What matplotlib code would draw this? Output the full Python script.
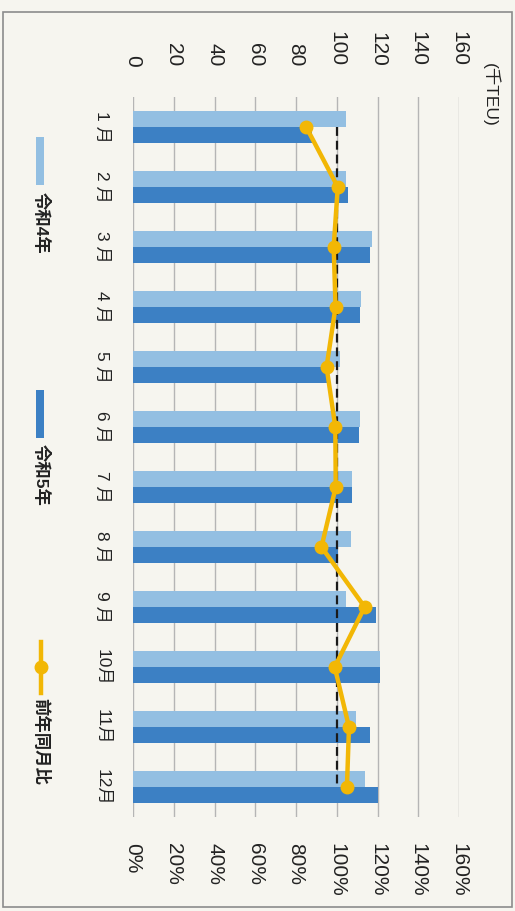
import matplotlib
matplotlib.use("Agg")
import matplotlib.pyplot as plt
from matplotlib.patches import Rectangle
from matplotlib.lines import Line2D
import numpy as np

plt.rcParams['font.family'] = ['Liberation Sans', 'Noto Sans CJK JP', 'DejaVu Sans']

# Monthly container volume (千TEU) and year-on-year ratio (%)
months = ['1 月', '2 月', '3 月', '4 月', '5 月', '6 月',
          '7 月', '8 月', '9 月', '10月', '11月', '12月']
teu_r4 = [104.5, 104.7, 117.5, 112.0, 101.7, 111.3,
          107.7, 107.0, 104.4, 121.4, 109.6, 113.7]
teu_r5 = [88.0, 105.4, 116.5, 111.5, 95.6, 111.0,
          107.7, 100.5, 119.4, 121.4, 116.2, 120.0]
yoy_pct = [85.0, 100.5, 98.5, 99.4, 95.0, 99.3,
           99.5, 92.5, 113.7, 99.0, 106.0, 105.0]
teu_ticks = [0, 20, 40, 60, 80, 100, 120, 140, 160]
pct_ticks = [0, 20, 40, 60, 80, 100, 120, 140, 160]

c_r4 = '#93bfe2'
c_r5 = '#3c80c4'
c_yoy = '#f2b705'
bg = '#f6f5ef'

W, H = 515, 911
fig = plt.figure(figsize=(W / 100, H / 100), dpi=100, facecolor=bg)


def fx(px):
    return px / W


def fy(py):
    return 1 - py / H


# outer frame
fig.patches.append(Rectangle((fx(3), fy(907)), fx(509), (895) / H,
                             transform=fig.transFigure, fill=False,
                             edgecolor='#8c8c8c', linewidth=1.2))

ax = fig.add_axes([fx(133), fy(817), fx(459 - 133), (817 - 97) / H])
ax.set_facecolor('none')

y = np.arange(len(months))
bh = 0.27
ax.barh(y - bh / 2, teu_r4, height=bh, color=c_r4, zorder=2)
ax.barh(y + bh / 2, teu_r5, height=bh, color=c_r5, zorder=2)

ax.set_xlim(0, 160)
ax.set_ylim(len(months) - 0.5, -0.5)
ax.set_yticks(y)
ax.set_yticklabels(months, rotation=-90, fontsize=12.5, va='center', color='#222222')
ax.tick_params(axis='y', length=0, pad=17)
ax.grid(axis='x', color='#b5b5b5', linewidth=1, zorder=0)
ax.set_axisbelow(True)
for s in ax.spines.values():
    s.set_visible(False)

# year-on-year ratio on the secondary scale
ax2 = ax.twiny()
ax2.set_xlim(0, 160)
ax2.xaxis.tick_bottom()
ax2.set_xticks(pct_ticks)
ax2.set_xticklabels([f'{t}%' for t in pct_ticks], rotation=-90, fontsize=15, color='#222222')
ax2.tick_params(axis='x', length=0, pad=19)
for s in ax2.spines.values():
    s.set_visible(False)
ax2.vlines(100, y[0], y[-1], colors='#1a1a1a', linestyles=(0, (4, 2.2)), linewidth=1.6, zorder=3)
ax2.plot(yoy_pct, y, color=c_yoy, linewidth=3.2, marker='o', markersize=9, zorder=4)
ax2.set_ylim(len(months) - 0.5, -0.5)

# TEU scale along the top (twiny moves it to the bottom, so set it afterwards)
ax.xaxis.tick_top()
ax.set_xticks(teu_ticks)
ax.set_xticklabels([str(t) for t in teu_ticks], rotation=-90, fontsize=15, color='#222222')
ax.tick_params(axis='x', length=0, pad=22)

# unit label
fig.text(fx(491), fy(63), '(千TEU)', rotation=-90, ha='center', va='top', fontsize=12.5, color='#222222')

# legend
fig.patches.append(Rectangle((fx(36), fy(185)), fx(8), 48 / H, transform=fig.transFigure,
                             facecolor=c_r4, edgecolor='none'))
fig.text(fx(41), fy(192), '令和4年', rotation=-90, ha='center', va='top', fontsize=12.5,
         fontweight='bold', color='#222222')
fig.patches.append(Rectangle((fx(36), fy(438)), fx(8), 48 / H, transform=fig.transFigure,
                             facecolor=c_r5, edgecolor='none'))
fig.text(fx(41), fy(444), '令和5年', rotation=-90, ha='center', va='top', fontsize=12.5,
         fontweight='bold', color='#222222')
fig.lines.append(Line2D([fx(41), fx(41)], [fy(642), fy(693)], transform=fig.transFigure,
                        color=c_yoy, linewidth=3.2))
fig.lines.append(Line2D([fx(41)], [fy(667)], transform=fig.transFigure,
                        color=c_yoy, marker='o', markersize=9))
fig.text(fx(41), fy(698), '前年同月比', rotation=-90, ha='center', va='top', fontsize=12.5,
         fontweight='bold', color='#222222')

fig.savefig('out.png', dpi=100, facecolor=bg)
